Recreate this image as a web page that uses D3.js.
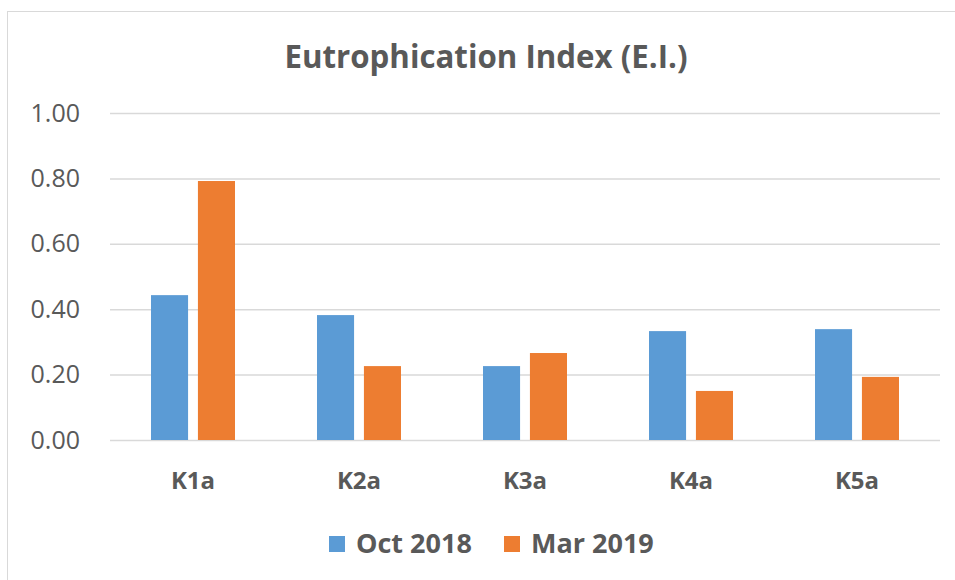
<!DOCTYPE html>
<html>
<head>
<meta charset="utf-8">
<script src="https://cdnjs.cloudflare.com/ajax/libs/d3/7.8.5/d3.min.js"></script>
<style>
  body { margin: 0; background: #fff; }
  text { fill: #595959; }
</style>
</head>
<body>
<div id="chart"></div>
<script>
// chart data
const categories = ["K1a", "K2a", "K3a", "K4a", "K5a"];
const seriesNames = ["Oct 2018", "Mar 2019"];
const oct2018 = [0.443, 0.382, 0.226, 0.333, 0.339];
const mar2019 = [0.792, 0.226, 0.266, 0.150, 0.193];
const yTicks = [0, 0.2, 0.4, 0.6, 0.8, 1.0];
const colors = ["#5B9BD5", "#ED7D31"];

const W = 955, H = 580;
const plot = { left: 110, right: 940, top: 113, bottom: 440 };

const svg = d3.select("#chart").append("svg")
    .attr("width", W)
    .attr("height", H);

// outer chart frame
svg.append("rect")
    .attr("x", 7.5).attr("y", 11.5)
    .attr("width", W).attr("height", H)
    .attr("fill", "none")
    .attr("stroke", "#d9d9d9");

// scales
const x0 = d3.scaleBand()
    .domain(categories)
    .range([plot.left, plot.right])
    .padding(0);

const y = d3.scaleLinear()
    .domain([0, 1])
    .range([plot.bottom, plot.top]);

// gridlines + y labels
const yAxis = svg.append("g")
    .attr("transform", `translate(${plot.left},0)`)
    .call(d3.axisLeft(y).tickValues(yTicks)
        .tickFormat(d3.format(".2f"))
        .tickSize(-(plot.right - plot.left))
        .tickPadding(30));
yAxis.select(".domain").remove();
yAxis.selectAll("line").attr("stroke", "#d9d9d9").attr("stroke-width", 1.5);
yAxis.selectAll("text")
    .attr("font-family", "'Open Sans', sans-serif")
    .attr("font-size", 25)
    .attr("fill", "#595959");

// bars
const groupW = 84;
const rows = categories.map((c, i) => ({ cat: c, vals: [oct2018[i], mar2019[i]] }));

const groups = svg.selectAll(".grp")
    .data(rows)
    .enter().append("g")
    .attr("class", "grp");

groups.each(function (d) {
    const cx = x0(d.cat) + x0.bandwidth() / 2;
    const x1 = d3.scaleBand()
        .domain(seriesNames)
        .range([cx - groupW / 2, cx + groupW / 2])
        .paddingInner(0.21);
    d3.select(this).selectAll("rect")
        .data(d.vals)
        .enter().append("rect")
        .attr("x", (v, j) => x1(seriesNames[j]))
        .attr("y", v => y(v))
        .attr("width", x1.bandwidth())
        .attr("height", v => y(0) - y(v))
        .attr("fill", (v, j) => colors[j]);
});

// x labels
const xAxis = svg.append("g")
    .attr("transform", `translate(0,${plot.bottom})`)
    .call(d3.axisBottom(x0).tickSize(0).tickPadding(32));
xAxis.select(".domain").remove();
xAxis.selectAll("text")
    .attr("font-family", "'Open Sans', sans-serif")
    .attr("font-weight", "bold")
    .attr("font-size", 24)
    .attr("fill", "#595959");

// title
svg.append("text")
    .attr("x", 486)
    .attr("y", 68)
    .attr("text-anchor", "middle")
    .attr("font-family", "'Open Sans', sans-serif")
    .attr("font-weight", "bold")
    .attr("font-size", 32)
    .attr("textLength", 403)
    .attr("lengthAdjust", "spacingAndGlyphs")
    .text("Eutrophication Index (E.I.)");

// legend
const legendX = [329, 504];
const legend = svg.selectAll(".leg")
    .data(seriesNames)
    .enter().append("g")
    .attr("class", "leg")
    .attr("transform", (d, i) => `translate(${legendX[i]},536)`);
legend.append("rect")
    .attr("width", 16).attr("height", 16)
    .attr("fill", (d, i) => colors[i]);
legend.append("text")
    .attr("x", 27).attr("y", 17)
    .attr("font-family", "'Open Sans', sans-serif")
    .attr("font-weight", "bold")
    .attr("font-size", 27)
    .text(d => d);
</script>
</body>
</html>
